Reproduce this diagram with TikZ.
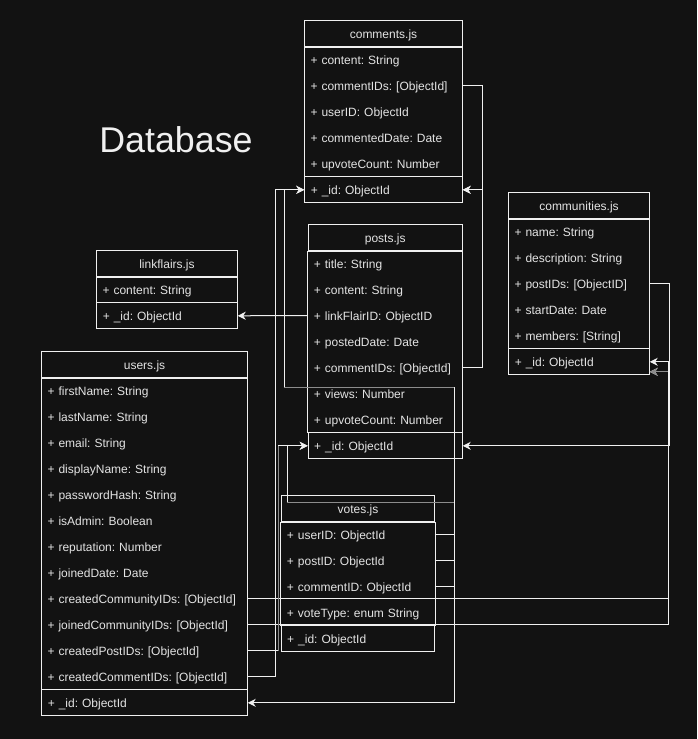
\documentclass[tikz,border=0pt]{standalone}
\usepackage{fontspec}
\setmainfont{Liberation Sans}
\usetikzlibrary{arrows.meta}
\definecolor{bg}{HTML}{121212}
\definecolor{ln}{HTML}{F0F0F0}
\definecolor{tx}{HTML}{E4E4E4}
\definecolor{gr}{HTML}{8C8C8C}
\tikzset{
  hdr/.style={draw=ln, line width=1pt, text=tx, anchor=north west, inner sep=0pt,
    minimum height=26pt, text height=10pt, text depth=0.2pt, font=\fontsize{12}{14}\selectfont\frenchspacing},
  attr/.style={text=tx, anchor=north west, inner xsep=6pt, inner ysep=0pt, align=left,
    minimum height=26pt, text height=10pt, text depth=0.2pt, font=\fontsize{12}{14}\selectfont\frenchspacing},
  conn/.style={draw=ln, line width=1pt, -{Stealth[length=8pt,width=8pt,inset=2.5pt]}},
  plain/.style={draw=ln, line width=1pt},
  grayconn/.style={draw=gr, line width=1pt},
}
\newcommand\umlbox[6]{%
  \pgfmathsetmacro\umltw{#4-12}%
  \node[hdr, minimum width=#4pt] (#1h) at (#2,#3) {#5};
  \foreach \t [count=\i] in {#6} {
    \node[attr, text width=\umltw pt] (#1\i) at (#2,{#3+26*\i}) {\t};
    \xdef\umllast{\i}
  }
  \node[attr, draw=ln, line width=1pt, text width=\umltw pt] (#1id) at (#2,{#3+26*\umllast+26}) {+ \_id: ObjectId};
  \draw[plain] (#1h.south west) rectangle (#1id.north east);
}
\begin{document}
\frenchspacing
\begin{tikzpicture}[x=1pt,y=-1pt]
\fill[bg] (0,0) rectangle (697,739);
\useasboundingbox (0,0) rectangle (697,739);

\node[text=ln, anchor=base, inner sep=0pt, font=\fontsize{35.8}{40}\selectfont] (title) at (176,152.5) {Database};

\umlbox{c}{304.3}{20.3}{157.4}{comments.js}{{+ content: String},{+ commentIDs: [ObjectId]},{+ userID: ObjectId},{+ commentedDate: Date},{+ upvoteCount: Number}}
\umlbox{p}{307.7}{224.3}{154}{posts.js}{{+ title: String},{+ content: String},{+ linkFlairID: ObjectID},{+ postedDate: Date},{+ commentIDs: [ObjectId]},{+ views: Number},{+ upvoteCount: Number}}
\umlbox{m}{508.3}{192.3}{140.4}{communities.js}{{+ name: String},{+ description: String},{+ postIDs: [ObjectID]},{+ startDate: Date},{+ members: [String]}}
\umlbox{l}{96.3}{250.3}{140.4}{linkflairs.js}{{+ content: String}}
\umlbox{u}{41.3}{351.3}{205.4}{users.js}{{+ firstName: String},{+ lastName: String},{+ email: String},{+ displayName: String},{+ passwordHash: String},{+ isAdmin: Boolean},{+ reputation: Number},{+ joinedDate: Date},{+ createdCommunityIDs: [ObjectId]},{+ joinedCommunityIDs: [ObjectId]},{+ createdPostIDs: [ObjectId]},{+ createdCommentIDs: [ObjectId]}}
\umlbox{v}{280.7}{495.3}{153.6}{votes.js}{{+ userID: ObjectId},{+ postID: ObjectId},{+ commentID: ObjectId},{+ voteType: enum String}}

% routing coordinates
\coordinate (xm) at (668.7,0);
\coordinate (xcc) at (275.3,0);
\coordinate (xcp) at (278,0);
\coordinate (xv) at (454.3,0);
\coordinate (vp1) at (454.3,502.3);
\coordinate (vp2) at (287.3,502.3);
\coordinate (vc1) at (454.3,387.7);
\coordinate (vc2) at (284.3,387.7);
\coordinate (m2in) at ([yshift=-10pt]mid.east);

% comments self / posts -> comments
\draw[conn] (c2.east) -- ++(20,0) |- (cid.east);
\draw[conn] (p5.east) -- ++(20,0) |- (cid.east);
% posts -> linkflairs
\draw[conn] (p3.west) -- (lid.east);
% communities -> posts
\draw[conn] (m3.east) -- ++(20,0) |- (pid.east);
% users -> communities
\draw[conn] (u10.east) -- (u10.east -| xm) |- (m2in);
\draw[grayconn, -{Stealth[length=8pt,width=8pt,inset=2.5pt]}] (m2in -| xm) -- (m2in);
\draw[conn] (u9.east) -- (u9.east -| xm) |- (mid.east);
% users -> posts / comments
\draw[conn] (u11.east) -- (u11.east -| xcp) |- (pid.west);
\draw[grayconn] (u11.east -| xcp) -- (pid.west -| xcp);
\draw[conn] (u12.east) -- (u12.east -| xcc) |- (cid.west);
% votes -> users / posts / comments
\draw[conn] (v1.east) -- (v1.east -| xv) |- (uid.east);
\draw[conn] (v2.east) -| (vp1) -- (vp2) |- (pid.west);
\draw[grayconn] (vp1) -- (vp2);
\draw[conn] (v3.east) -| (vc1) -- (vc2) |- (cid.west);
\draw[grayconn] (vc1) -- (vc2);
\end{tikzpicture}
\end{document}
